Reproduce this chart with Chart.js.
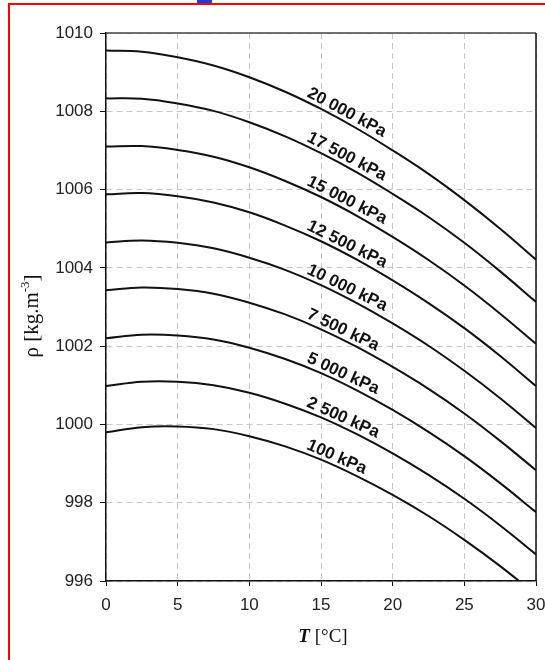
<!DOCTYPE html>
<html>
<head>
<meta charset="utf-8">
<script src="https://cdn.jsdelivr.net/npm/chart.js@4.4.0/dist/chart.umd.min.js"></script>
<style>
    html, body { margin: 0; padding: 0; background: #fff; overflow: hidden; }
    body { width: 545px; height: 660px; position: relative; }
    #wrap { position: absolute; left: 0; top: 0; width: 560px; height: 660px; }
    #frame { position: absolute; left: 8px; top: 3px; width: 600px; height: 700px;
             border-left: 2px solid #f00; border-top: 2px solid #f00; pointer-events: none; }
    #link { position: absolute; left: 197px; top: 0; width: 15px; height: 3px; background: #1a3cd8; }
</style>
</head>
<body>
<div id="link"></div>
<div id="wrap"><canvas id="rhoChart" width="560" height="660"></canvas></div>
<div id="frame"></div>

<script>
// Temperatur-Stützstellen [°C]
const temps = [0, 2.5, 5, 7.5, 10, 12.5, 15, 17.5, 20, 22.5, 25, 27.5, 30];

// Dichte [kg/m3] je Druckstufe
const p100   = [999.80, 999.93, 999.95, 999.88, 999.70, 999.44, 999.10, 998.68, 998.20, 997.66, 997.05, 996.38, 995.65];
const p2500  = [1000.98, 1001.09, 1001.09, 1001.00, 1000.81, 1000.53, 1000.18, 999.75, 999.26, 998.71, 998.10, 997.42, 996.68];
const p5000  = [1002.20, 1002.29, 1002.27, 1002.17, 1001.96, 1001.67, 1001.31, 1000.87, 1000.37, 999.81, 999.19, 998.50, 997.76];
const p7500  = [1003.43, 1003.50, 1003.46, 1003.34, 1003.11, 1002.81, 1002.43, 1001.98, 1001.47, 1000.91, 1000.28, 999.58, 998.83];
const p10000 = [1004.65, 1004.70, 1004.64, 1004.50, 1004.26, 1003.95, 1003.56, 1003.10, 1002.58, 1002.01, 1001.37, 1000.67, 999.91];
const p12500 = [1005.88, 1005.91, 1005.83, 1005.67, 1005.42, 1005.08, 1004.68, 1004.21, 1003.68, 1003.10, 1002.46, 1001.75, 1000.98];
const p15000 = [1007.10, 1007.11, 1007.01, 1006.84, 1006.57, 1006.22, 1005.81, 1005.33, 1004.79, 1004.20, 1003.55, 1002.83, 1002.06];
const p17500 = [1008.33, 1008.32, 1008.20, 1008.01, 1007.72, 1007.36, 1006.93, 1006.44, 1005.89, 1005.30, 1004.64, 1003.91, 1003.13];
const p20000 = [1009.55, 1009.52, 1009.38, 1009.17, 1008.87, 1008.50, 1008.06, 1007.56, 1007.00, 1006.40, 1005.73, 1005.00, 1004.21];

const series = [p100, p2500, p5000, p7500, p10000, p12500, p15000, p17500, p20000];
const curveLabels = ['100 kPa', '2 500 kPa', '5 000 kPa', '7 500 kPa', '10 000 kPa',
                     '12 500 kPa', '15 000 kPa', '17 500 kPa', '20 000 kPa'];

// Achsen
const xMin = 0, xMax = 30, xStep = 5;
const yMin = 996, yMax = 1010, yStep = 2;

// wo die Kurvenbeschriftung beginnt (T-Wert)
const labelStartT = 13.8;

const tickFont = { family: '"Liberation Sans", Arial, sans-serif', size: 17 };

// linearer Wert auf der Kurve, nur fürs Platzieren der Texte
function valueAt(arr, t) {
    for (let i = 0; i < temps.length - 1; i++) {
        if (t >= temps[i] && t <= temps[i + 1]) {
            const f = (t - temps[i]) / (temps[i + 1] - temps[i]);
            return arr[i] + f * (arr[i + 1] - arr[i]);
        }
    }
    return arr[arr.length - 1];
}

const curveLabelPlugin = {
    id: 'curveLabels',
    afterDatasetsDraw(chart) {
        const { ctx, scales: { x, y } } = chart;
        ctx.save();
        ctx.font = 'bold 17px "Liberation Sans", Arial, sans-serif';
        ctx.fillStyle = '#111';
        ctx.textAlign = 'left';
        ctx.textBaseline = 'alphabetic';
        series.forEach((arr, i) => {
            const t1 = labelStartT, t2 = labelStartT + 4;
            const x1 = x.getPixelForValue(t1), y1 = y.getPixelForValue(valueAt(arr, t1));
            const x2 = x.getPixelForValue(t2), y2 = y.getPixelForValue(valueAt(arr, t2));
            const ang = Math.atan2(y2 - y1, x2 - x1);
            ctx.save();
            ctx.translate(x1, y1);
            ctx.rotate(ang);
            ctx.fillText(curveLabels[i], 0, -5);
            ctx.restore();
        });
        ctx.restore();
    }
};

const frameAndTitles = {
    id: 'frameAndTitles',
    afterDraw(chart) {
        const { ctx, chartArea: a } = chart;
        ctx.save();
        // Rahmen oben / rechts
        ctx.lineWidth = 1.5;
        ctx.strokeStyle = '#444';
        ctx.beginPath();
        ctx.moveTo(a.left, a.top);
        ctx.lineTo(a.right, a.top);
        ctx.stroke();
        ctx.strokeStyle = '#111';
        ctx.beginPath();
        ctx.moveTo(a.right, a.top);
        ctx.lineTo(a.right, a.bottom);
        ctx.stroke();

        ctx.fillStyle = '#111';
        ctx.textBaseline = 'alphabetic';

        // x-Titel: T [°C]
        const fT = 'italic bold 19px "Liberation Serif", "Times New Roman", serif';
        const fR = '19px "Liberation Serif", "Times New Roman", serif';
        ctx.font = fT; const wT = ctx.measureText('T').width;
        ctx.font = fR; const wR = ctx.measureText(' [°C]').width;
        let xs = 323 - (wT + wR) / 2;
        ctx.textAlign = 'left';
        ctx.font = fT; ctx.fillText('T', xs, 642);
        ctx.font = fR; ctx.fillText(' [°C]', xs + wT, 642);

        // y-Titel: ρ [kg.m-3]
        ctx.translate(38, 316);
        ctx.rotate(-Math.PI / 2);
        const fY = '21px "Liberation Serif", "Times New Roman", serif';
        const fS = '13px "Liberation Serif", "Times New Roman", serif';
        ctx.font = fY; const w1 = ctx.measureText('ρ [kg.m').width;
        ctx.font = fS; const w2 = ctx.measureText('-3').width;
        ctx.font = fY; const w3 = ctx.measureText(']').width;
        let ys = -(w1 + w2 + w3) / 2;
        ctx.font = fY; ctx.fillText('ρ [kg.m', ys, 0);
        ctx.font = fS; ctx.fillText('-3', ys + w1, -9);
        ctx.font = fY; ctx.fillText(']', ys + w1 + w2, 0);
        ctx.restore();
    }
};

const ctx = document.getElementById('rhoChart').getContext('2d');

new Chart(ctx, {
    type: 'line',
    data: {
        datasets: series.map((arr, i) => ({
            label: curveLabels[i],
            data: temps.map((t, k) => ({ x: t, y: arr[k] })),
            borderColor: '#111',
            borderWidth: 2,
            pointRadius: 0,
            fill: false,
            tension: 0.4
        }))
    },
    options: {
        responsive: false,
        animation: false,
        devicePixelRatio: 1,
        layout: { padding: { top: 33, right: 24, left: 0, bottom: 0 } },
        plugins: { legend: { display: false }, tooltip: { enabled: false } },
        scales: {
            x: {
                type: 'linear', min: xMin, max: xMax,
                afterFit: s => { s.height = 79; },
                ticks: { stepSize: xStep, color: '#222', font: tickFont, padding: 9, maxRotation: 0,
                         callback: v => String(v) },
                grid: { color: '#c8c8c8', tickColor: '#111', tickLength: 5, lineWidth: 1 },
                border: { color: '#111', width: 1.5, dash: [6, 4] }
            },
            y: {
                min: yMin, max: yMax,
                afterFit: s => { s.width = 106; },
                ticks: { stepSize: yStep, color: '#222', font: tickFont, padding: 7,
                         callback: v => String(v) },
                grid: { color: '#c8c8c8', tickColor: '#111', tickLength: 6, lineWidth: 1 },
                border: { color: '#111', width: 1.5, dash: [6, 4] }
            }
        }
    },
    plugins: [curveLabelPlugin, frameAndTitles]
});
</script>
</body>
</html>
